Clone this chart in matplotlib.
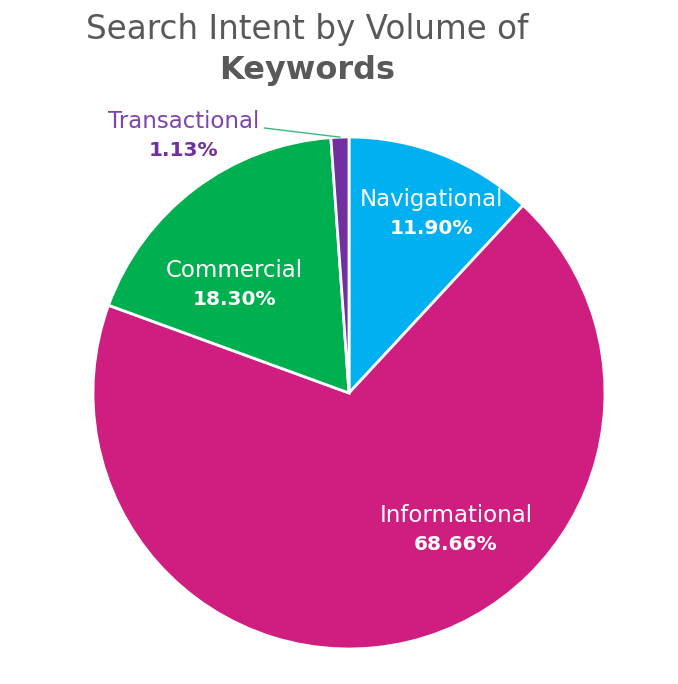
import numpy as np
import matplotlib.pyplot as plt

# data
labels = ["Navigational", "Informational", "Commercial", "Transactional"]
shares = [11.90, 68.66, 18.30, 1.13]
colors = ["#00B0F0", "#CF1E7F", "#00B050", "#7030A0"]

# label positions in pie data units (name line, percent line below it)
label_pos = {
    "Navigational": (0.322, 0.755),
    "Informational": (0.418, -0.48),
    "Commercial": (-0.447, 0.48),
    "Transactional": (-0.645, 1.06),
}
name_color = {"Transactional": "#7D45AD"}
pct_color = {"Transactional": "#7030A0"}

plt.rcParams["font.family"] = ["DejaVu Sans"]

fig = plt.figure(figsize=(6.78, 6.84), dpi=100)
ax = fig.add_axes([93 / 678, (684 - 649) / 684, 512 / 678, 512 / 684])

wedges, _ = ax.pie(shares, colors=colors, startangle=90, counterclock=False,
                   wedgeprops=dict(edgecolor="white", linewidth=2))
ax.set_xlim(-1, 1)
ax.set_ylim(-1, 1)
ax.set_aspect("equal")
ax.axis("off")

for name, val in zip(labels, shares):
    x, y = label_pos[name]
    ax.text(x, y, name, ha="center", va="center",
            color=name_color.get(name, "white"), fontsize=16.5)
    ax.text(x, y - 0.113, f"{val:.2f}%", ha="center", va="center",
            color=pct_color.get(name, "white"), fontsize=14.5, fontweight="bold")

# leader line for the small slice
w = wedges[3]
mid = np.deg2rad((w.theta1 + w.theta2) / 2)
ax.plot([-0.33, np.cos(mid)], [1.035, np.sin(mid)], color="#3DB87A",
        linewidth=1, clip_on=False)

fig.text(307 / 678, 1 - 30 / 684, "Search Intent by Volume of", ha="center",
         va="center", color="#595959", fontsize=23.5)
fig.text(307 / 678, 1 - 70 / 684, "Keywords", ha="center", va="center",
         color="#595959", fontsize=23, fontweight="bold")

fig.savefig("out.png", dpi=100, facecolor="white")
